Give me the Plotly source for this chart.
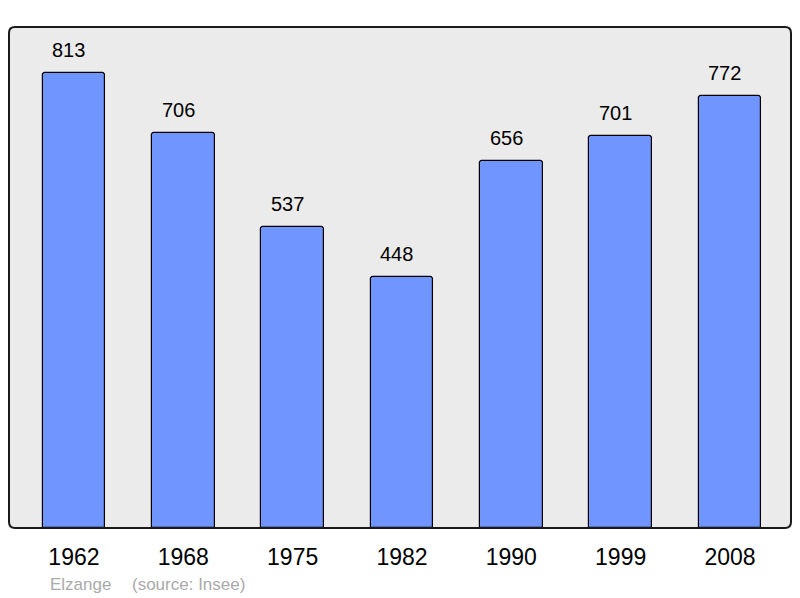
import plotly.graph_objects as go

years = ["1962", "1968", "1975", "1982", "1990", "1999", "2008"]
population = [813, 706, 537, 448, 656, 701, 772]
commune = "Elzange"
source = "(source: Insee)"

# The page body has an 8px margin; the figure is sized/placed to compensate.
W, H = 792, 590
L, R, T, B = 1, 9, 19, 70
pw, ph = W - L - R, H - T - B

fig = go.Figure()
fig.add_trace(go.Bar(
    x=list(range(len(years))), y=population, width=0.575,
    marker=dict(color="#7095ff", line=dict(color="#000000", width=1.2), cornerradius=3),
    hoverinfo="skip",
))

for i, v in enumerate(population):
    fig.add_annotation(x=i, y=v, text=str(v), showarrow=False, yanchor="bottom",
                       yshift=10, xshift=-5, font=dict(size=20, color="#000000"))

fig.add_annotation(xref="paper", yref="paper", x=(48 - 9) / pw, y=-(584 - 528) / ph,
                   text=commune, showarrow=False, xanchor="left", yanchor="middle",
                   font=dict(size=17, color="#aaaaaa"))
fig.add_annotation(xref="paper", yref="paper", x=(130 - 9) / pw, y=-(584 - 528) / ph,
                   text=source, showarrow=False, xanchor="left", yanchor="middle",
                   font=dict(size=17, color="#aaaaaa"))

# rounded frame
rx, ry = 6 / pw, 6 / ph
x0, y0, x1, y1 = 0, 0, 1, 1
path = (f"M {x0+rx},{y0} L {x1-rx},{y0} Q {x1},{y0} {x1},{y0+ry} L {x1},{y1-ry} "
        f"Q {x1},{y1} {x1-rx},{y1} L {x0+rx},{y1} Q {x0},{y1} {x0},{y1-ry} "
        f"L {x0},{y0+ry} Q {x0},{y0} {x0+rx},{y0} Z")
fig.add_shape(type="path", path=path, xref="paper", yref="paper",
              line=dict(color="#1a1a1a", width=2), layer="above")

fig.update_layout(
    width=W, height=H,
    margin=dict(l=L, r=R, t=T, b=B),
    paper_bgcolor="#ffffff", plot_bgcolor="#ebebeb",
    font=dict(family="Liberation Sans, Arial, sans-serif", color="#000000"),
    showlegend=False, bargap=0,
    xaxis=dict(range=[-0.594, 6.558], tickmode="array", tickvals=list(range(len(years))),
               ticktext=years, showgrid=False, zeroline=False, showline=False,
               ticks="", tickfont=dict(size=23), ticklabelstandoff=13, fixedrange=True),
    yaxis=dict(range=[0, 895], showgrid=False, zeroline=False, showline=False,
               showticklabels=False, ticks="", fixedrange=True),
)

fig.write_html("out.html", config={"displayModeBar": False})
